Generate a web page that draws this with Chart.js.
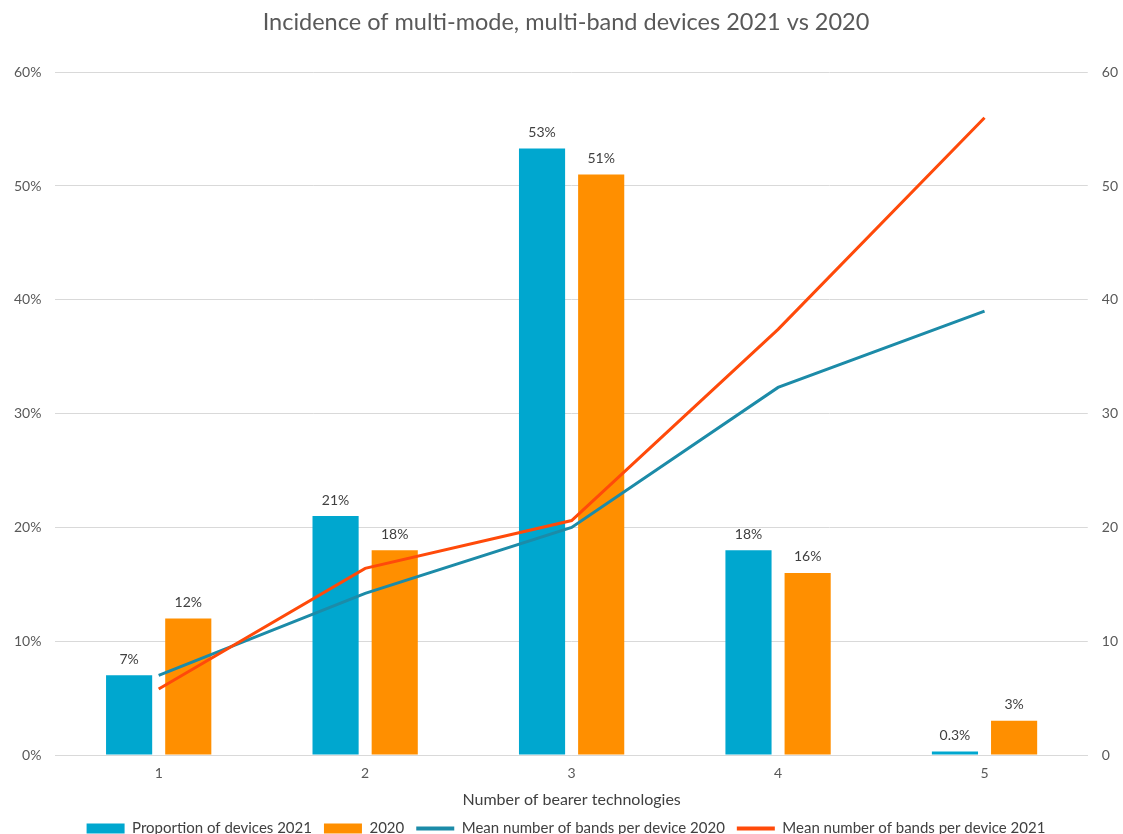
<!DOCTYPE html>
<html>
<head>
<meta charset="utf-8">
<title>Incidence of multi-mode, multi-band devices</title>
<script src="https://cdn.jsdelivr.net/npm/chart.js@4.4.1/dist/chart.umd.min.js"></script>
<style>
  html, body { margin: 0; padding: 0; background: #ffffff; }
  #wrap { width: 1123px; height: 834px; }
</style>
</head>
<body>
<div id="wrap"><canvas id="bandsChart"></canvas></div>
<script>
// Chart.js defaults
Chart.defaults.color = '#595959';
Chart.defaults.font.family = "'Lato', 'Open Sans', sans-serif";
Chart.defaults.font.size = 14;

// Dados
const categorias = ['1', '2', '3', '4', '5'];
const proporcao2021 = [7, 21, 53.3, 18, 0.3];
const proporcao2020 = [12, 18, 51, 16, 3];
const bandas2020 = [7, 14.2, 20, 32.3, 39];
const bandas2021 = [5.8, 16.4, 20.6, 37.4, 56];
const ticksPercent = [0, 10, 20, 30, 40, 50, 60];

const cores = {
    azul: '#00A7CF',
    laranja: '#FF8F00',
    teal: '#1C8BA8',
    vermelho: '#FF4A0A',
    grade: '#D9D9D9'
};

// Rótulos de valor acima das barras
const rotulosBarras = {
    id: 'rotulosBarras',
    afterDatasetsDraw(chart) {
        const { ctx } = chart;
        ctx.save();
        ctx.font = "14px 'Lato', 'Open Sans', sans-serif";
        ctx.fillStyle = '#404040';
        ctx.textAlign = 'center';
        ctx.textBaseline = 'bottom';
        chart.data.datasets.forEach((ds, i) => {
            if (ds.type !== 'bar') return;
            const meta = chart.getDatasetMeta(i);
            meta.data.forEach((bar, j) => {
                const v = ds.data[j];
                const txt = v < 1 ? v + '%' : Math.round(v) + '%';
                ctx.fillText(txt, bar.x, bar.y - 9);
            });
        });
        ctx.restore();
    }
};

function legendaItens(chart) {
    return chart.data.datasets.map((ds, i) => {
        const isLine = ds.type === 'line';
        return {
            text: ds.label,
            fillStyle: isLine ? ds.borderColor : ds.backgroundColor,
            strokeStyle: isLine ? ds.borderColor : ds.backgroundColor,
            lineWidth: isLine ? 4 : 0,
            pointStyle: isLine ? 'line' : 'rect',
            fontColor: '#404040',
            datasetIndex: i,
            hidden: false
        };
    });
}

const ctx = document.getElementById('bandsChart').getContext('2d');
new Chart(ctx, {
    data: {
        labels: categorias,
        datasets: [
            {
                type: 'bar',
                label: 'Proportion of devices 2021',
                data: proporcao2021,
                backgroundColor: cores.azul,
                yAxisID: 'y',
                order: 2,
                categoryPercentage: 0.573,
                barPercentage: 0.78
            },
            {
                type: 'bar',
                label: '2020',
                data: proporcao2020,
                backgroundColor: cores.laranja,
                yAxisID: 'y',
                order: 2,
                categoryPercentage: 0.573,
                barPercentage: 0.78
            },
            {
                type: 'line',
                label: 'Mean number of bands per device 2020',
                data: bandas2020,
                borderColor: cores.teal,
                backgroundColor: cores.teal,
                borderWidth: 3,
                pointRadius: 0,
                tension: 0,
                yAxisID: 'y1',
                order: 1
            },
            {
                type: 'line',
                label: 'Mean number of bands per device 2021',
                data: bandas2021,
                borderColor: cores.vermelho,
                backgroundColor: cores.vermelho,
                borderWidth: 3,
                pointRadius: 0,
                tension: 0,
                yAxisID: 'y1',
                order: 0
            }
        ]
    },
    options: {
        responsive: true,
        maintainAspectRatio: false,
        animation: false,
        layout: {
            padding: { top: 8, left: 0, right: -9, bottom: -12 }
        },
        plugins: {
            title: {
                display: true,
                text: 'Incidence of multi-mode, multi-band devices 2021 vs 2020',
                color: '#595959',
                font: { size: 23.5, weight: 'normal' },
                padding: { top: 0, bottom: 36 }
            },
            legend: {
                position: 'bottom',
                labels: {
                    usePointStyle: true,
                    pointStyleWidth: 38,
                    boxWidth: 38,
                    boxHeight: 10,
                    padding: 12,
                    color: '#404040',
                    font: { size: 15 },
                    generateLabels: legendaItens
                }
            },
            tooltip: { enabled: false }
        },
        scales: {
            x: {
                grid: { display: false },
                border: { color: cores.grade },
                ticks: { padding: 2 },
                title: {
                    display: true,
                    text: 'Number of bearer technologies',
                    color: '#404040',
                    font: { size: 16 },
                    padding: { top: 6, bottom: 0 }
                }
            },
            y: {
                position: 'left',
                min: 0,
                max: 60,
                afterBuildTicks: (axis) => { axis.ticks = ticksPercent.map(v => ({ value: v })); },
                ticks: {
                    padding: 14,
                    callback: (v) => v + '%'
                },
                grid: { color: cores.grade, drawTicks: false },
                border: { display: false }
            },
            y1: {
                position: 'right',
                min: 0,
                max: 60,
                afterBuildTicks: (axis) => { axis.ticks = ticksPercent.map(v => ({ value: v })); },
                ticks: { padding: 14 },
                grid: { display: false, drawTicks: false },
                border: { display: false }
            }
        }
    },
    plugins: [rotulosBarras]
});
</script>
</body>
</html>
